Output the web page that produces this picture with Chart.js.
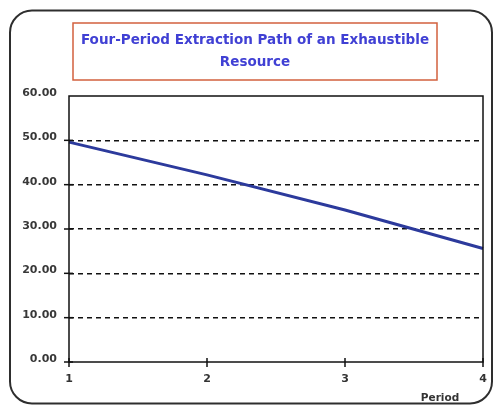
<!DOCTYPE html>
<html>
<head>
<meta charset="utf-8">
<script src="https://cdn.jsdelivr.net/npm/chart.js@4/dist/chart.umd.min.js"></script>
<style>
  html, body { margin: 0; padding: 0; background: #fff; }
  #wrap { width: 493px; height: 406px; position: relative; }
</style>
</head>
<body>
<div id="wrap"><canvas id="c" width="493" height="406"></canvas></div>
<script>
// Extraction per period
const periods = ['1', '2', '3', '4'];
const extraction = [49.6, 42.2, 34.3, 25.6];
const yTicks = [0, 10, 20, 30, 40, 50, 60];
const titleLines = ['Four-Period Extraction Path of an Exhaustible', 'Resource'];
const xAxisTitle = 'Period';

const FONT = '"DejaVu Sans", Verdana, sans-serif';

// Rounded outer frame, boxed title, plot frame and cross-shaped tick marks
const decor = {
  id: 'decor',
  beforeDraw(chart) {
    const ctx = chart.ctx;
    ctx.save();
    ctx.fillStyle = '#fff';
    ctx.fillRect(0, 0, chart.width, chart.height);
    ctx.strokeStyle = '#2e2e2e';
    ctx.lineWidth = 2;
    ctx.beginPath();
    ctx.roundRect(10, 10.5, 482, 393, 22);
    ctx.stroke();
    ctx.restore();
  },
  afterDraw(chart) {
    const ctx = chart.ctx;
    const a = chart.chartArea;
    const xs = chart.scales.x, ys = chart.scales.y;
    ctx.save();
    // plot frame
    ctx.strokeStyle = '#111';
    ctx.lineWidth = 1.5;
    ctx.strokeRect(a.left, a.top, a.right - a.left, a.bottom - a.top);
    // cross ticks on y axis
    yTicks.forEach(v => {
      if (v === 60) return;
      const y = ys.getPixelForValue(v);
      ctx.beginPath();
      ctx.moveTo(a.left - 5, y);
      ctx.lineTo(a.left + 4, y);
      ctx.stroke();
    });
    // cross ticks on x axis
    periods.forEach((p, i) => {
      const x = xs.getPixelForValue(i);
      ctx.beginPath();
      ctx.moveTo(x, a.bottom - 4);
      ctx.lineTo(x, a.bottom + 5);
      ctx.stroke();
    });
    // title box
    ctx.strokeStyle = '#d2603e';
    ctx.lineWidth = 1.5;
    ctx.strokeRect(73, 23, 364, 57);
    ctx.fillStyle = '#4040d4';
    ctx.font = 'bold 13.5px ' + FONT;
    ctx.textAlign = 'center';
    ctx.textBaseline = 'middle';
    ctx.fillText(titleLines[0], 255, 40);
    ctx.fillText(titleLines[1], 255, 62);
    // x axis title
    ctx.fillStyle = '#333';
    ctx.font = 'bold 10.5px ' + FONT;
    ctx.fillText(xAxisTitle, 440, 398);
    ctx.restore();
  }
};

new Chart(document.getElementById('c'), {
  type: 'line',
  data: {
    labels: periods,
    datasets: [{
      data: extraction,
      borderColor: '#2c3a9c',
      borderWidth: 3,
      pointRadius: 0,
      tension: 0,
      fill: false
    }]
  },
  options: {
    responsive: false,
    animation: false,
    devicePixelRatio: 1,
    layout: { padding: { left: 0, right: 0, top: 96, bottom: 0 } },
    plugins: { legend: { display: false }, tooltip: { enabled: false }, title: { display: false } },
    scales: {
      x: {
        type: 'category',
        offset: false,
        afterFit(s) { s.height = 44; s.paddingLeft = 0; s.paddingRight = 10; },
        grid: { display: false, drawTicks: false },
        border: { display: false },
        ticks: {
          color: '#333',
          font: { family: FONT, size: 11, weight: 'bold' },
          padding: 11,
          maxRotation: 0
        }
      },
      y: {
        min: 0,
        max: 60,
        afterFit(s) { s.width = 69; },
        afterBuildTicks(s) { s.ticks = yTicks.map(v => ({ value: v })); },
        border: { display: false, dash: [5, 4] },
        grid: {
          drawTicks: false,
          color: ctx => (ctx.tick && (ctx.tick.value === 0 || ctx.tick.value === 60)) ? 'rgba(0,0,0,0)' : '#111',
          lineWidth: 1.5
        },
        ticks: {
          color: '#383838',
          font: { family: FONT, size: 11, weight: 'bold' },
          padding: 12,
          labelOffset: -3,
          callback: v => Number(v).toFixed(2)
        }
      }
    }
  },
  plugins: [decor]
});
</script>
</body>
</html>
